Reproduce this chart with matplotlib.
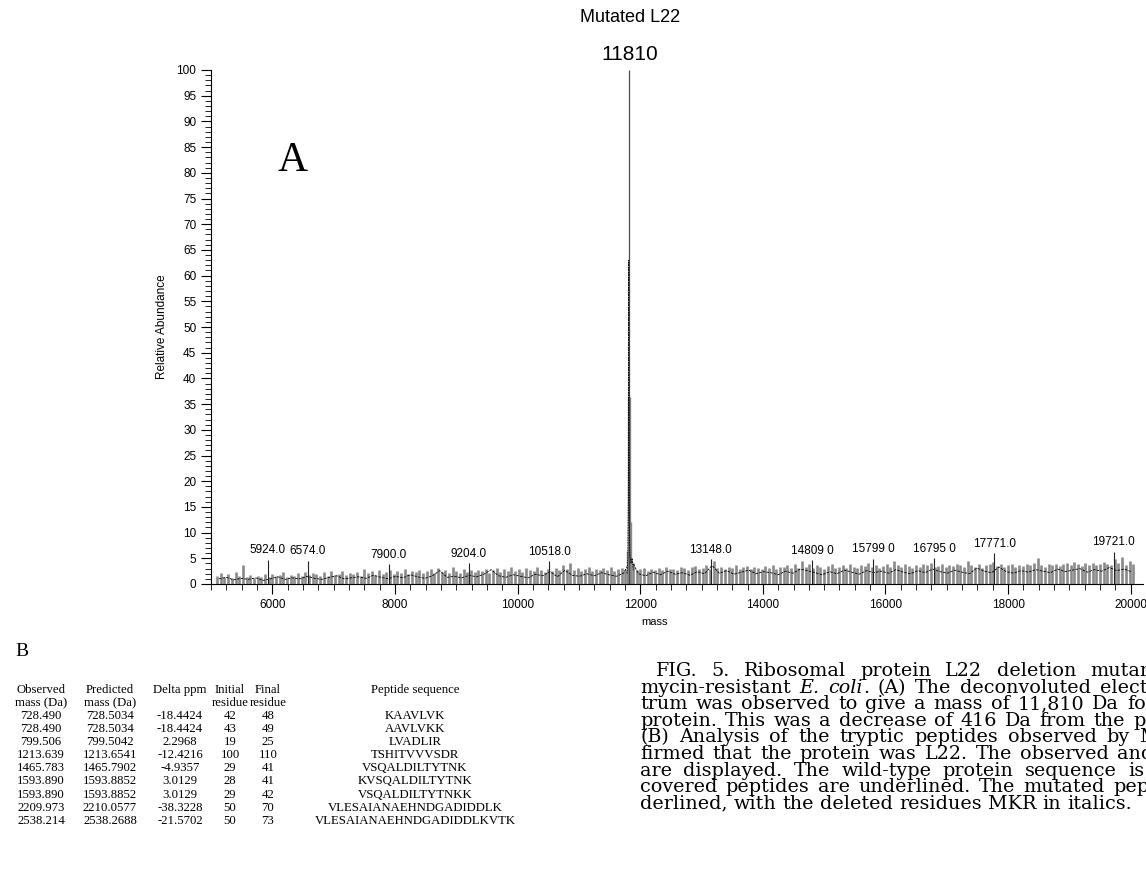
import numpy as np
import matplotlib
matplotlib.use("Agg")
import matplotlib.pyplot as plt
from matplotlib.ticker import MultipleLocator

# ---------------- data ----------------
# background (noise) sticks, grey, every 60 Da from 5100 Da
noise_start, noise_step = 5100, 60
noise_gray = [
    1.6, 2.2, 1.4, 1.9, 1.2, 2.4, 1.5, 3.6, 1.3, 1.8,
    1.2, 1.6, 1.4, 1.9, 1.3, 2.0, 1.5, 1.7, 2.3, 1.4,
    1.8, 1.5, 2.1, 1.6, 2.4, 1.7, 2.2, 1.9, 1.5, 2.3,
    1.6, 2.5, 1.8, 2.0, 2.6, 1.7, 2.2, 1.9, 2.4, 1.6,
    3.0, 2.1, 2.5, 1.8, 2.7, 2.0, 2.3, 2.8, 1.9, 2.5,
    2.2, 2.9, 2.0, 2.6, 2.3, 2.8, 2.1, 2.5, 2.9, 2.2,
    3.2, 2.4, 2.7, 2.1, 3.4, 2.5, 2.2, 2.9, 2.4, 2.7,
    2.3, 2.8, 2.6, 3.0, 2.2, 2.7, 3.1, 2.4, 2.9, 2.5,
    3.4, 2.6, 2.9, 2.3, 3.1, 2.7, 2.5, 3.3, 2.8, 2.4,
    3.0, 2.6, 3.2, 2.7, 3.6, 2.9, 4.0, 2.8, 3.1, 2.5,
    2.9, 3.3, 2.6, 3.0, 2.7, 3.2, 2.8, 3.4, 2.6, 3.0,
    3.1, 2.8, 3.5, 4.0, 2.7, 2.9, 3.2, 2.6, 3.0, 2.8,
    3.1, 2.7, 3.3, 2.9, 3.0, 2.8, 3.4, 3.1, 2.7, 3.3,
    3.5, 2.9, 3.2, 3.6, 3.0, 4.4, 3.1, 3.4, 3.0, 3.3,
    3.1, 3.6, 2.9, 3.3, 3.5, 3.0, 3.4, 3.2, 2.9, 3.5,
    3.2, 3.7, 3.0, 3.4, 3.3, 3.6, 3.1, 3.8, 3.2, 4.5,
    3.4, 3.9, 3.2, 3.6, 3.3, 3.0, 3.5, 3.8, 3.1, 3.4,
    3.6, 3.2, 3.9, 3.4, 3.1, 3.7, 3.5, 4.1, 3.3, 3.6,
    3.2, 3.5, 3.8, 3.4, 4.4, 3.6, 3.3, 3.9, 3.5, 3.2,
    3.7, 3.4, 3.9, 3.6, 4.0, 3.3, 3.5, 3.8, 3.4, 3.7,
    3.5, 3.9, 3.6, 3.3, 4.5, 3.7, 3.4, 3.8, 3.2, 3.6,
    3.9, 4.2, 3.5, 3.8, 3.3, 3.6, 3.9, 3.4, 3.7, 3.5,
    3.8, 3.6, 4.1, 5.0, 3.7, 3.4, 3.9, 3.6, 3.8, 3.5,
    3.9, 4.0, 3.6, 4.2, 3.8, 3.5, 4.0, 3.7, 4.1, 3.6,
    3.8, 4.3, 3.9, 3.6, 4.8, 4.0, 5.2, 3.7, 4.4, 3.9,
]
# black profile trace, every 120 Da from 5130 Da
black_start, black_step = 5130, 120
noise_black = [
    1.0, 1.3, 0.8, 1.1, 0.9, 1.2, 0.7, 1.0, 1.4, 0.9,
    1.2, 1.0, 1.5, 1.1, 0.9, 1.3, 1.6, 1.0, 1.2, 1.4,
    1.1, 1.7, 1.3, 1.0, 1.5, 1.2, 1.8, 1.4, 1.1, 1.6,
    2.6, 1.3, 1.5, 1.2, 1.7, 1.4, 1.9, 2.8, 1.6, 1.3,
    1.8, 1.5, 1.2, 1.9, 1.6, 2.4, 1.4, 2.7, 1.7, 1.5,
    2.0, 1.6, 2.2, 1.8, 1.5, 2.1, 4.8, 2.0, 1.6, 2.3,
    1.8, 2.5, 1.9, 2.2, 1.7, 2.4, 2.0, 3.6, 2.1, 2.6,
    1.9, 2.3, 2.7, 2.0, 2.4, 2.2, 1.8, 2.5, 2.1, 2.9,
    2.6, 2.2, 1.8, 2.4, 2.0, 2.7, 2.3, 1.9, 2.6, 2.2,
    2.5, 2.1, 2.8, 2.3, 2.0, 2.6, 2.2, 2.9, 2.4, 2.1,
    2.7, 2.3, 2.0, 3.1, 2.5, 2.2, 3.3, 2.4, 2.1, 2.6,
    2.3, 2.8, 2.5, 2.2, 2.9, 2.4, 2.7, 3.0, 2.3, 2.8,
    2.5, 3.2, 2.6, 2.9, 2.4,
]
# main deconvoluted peak
main_mass = 11810
main_height = 100
main_label = "11810"
main_gray_mass = [11800, 11816, 11826]
main_gray_height = [6.5, 36.4, 12.0]
main_black_mass = [11785, 11798, 11806, 11812, 11820, 11832, 11848, 11868, 11890]
main_black_height = [2.0, 5.0, 17.0, 63.0, 14.0, 6.0, 4.0, 5.0, 2.5]

# labelled minor peaks
peak_mass = [5924, 6574, 7900, 9204, 10518, 13148, 14809, 15799, 16795, 17771, 19721]
peak_height = [4.7, 4.5, 3.8, 4.0, 4.4, 4.8, 4.6, 4.9, 5.0, 6.0, 6.3]
peak_labels = ["5924.0", "6574.0", "7900.0", "9204.0", "10518.0", "13148.0",
               "14809 0", "15799 0", "16795 0", "17771.0", "19721.0"]

title_text = "Mutated L22"
x_label = "mass"
y_label = "Relative Abundance"
x_ticks = [6000, 8000, 10000, 12000, 14000, 16000, 18000, 20000]
y_ticks = list(range(0, 101, 5))

# table (panel B)
tbl_head1 = ["Observed", "Predicted", "Delta ppm", "Initial", "Final", "Peptide sequence"]
tbl_head2 = ["mass (Da)", "mass (Da)", "", "residue", "residue", ""]
obs_mass = ["728.490", "728.490", "799.506", "1213.639", "1465.783", "1593.890",
            "1593.890", "2209.973", "2538.214"]
pred_mass = ["728.5034", "728.5034", "799.5042", "1213.6541", "1465.7902", "1593.8852",
             "1593.8852", "2210.0577", "2538.2688"]
delta_ppm = ["-18.4424", "-18.4424", "2.2968", "-12.4216", "-4.9357", "3.0129",
             "3.0129", "-38.3228", "-21.5702"]
init_res = ["42", "43", "19", "100", "29", "28", "29", "50", "50"]
final_res = ["48", "49", "25", "110", "41", "41", "42", "70", "73"]
peptide = ["KAAVLVK", "AAVLVKK", "LVADLIR", "TSHITVVVSDR", "VSQALDILTYTNK",
           "KVSQALDILTYTNK", "VSQALDILTYTNKK", "VLESAIANAEHNDGADIDDLK",
           "VLESAIANAEHNDGADIDDLKVTK"]

# caption lines (*...* = italic); the right end is cut by the page edge
caption = [
    "FIG. 5. Ribosomal protein L22 deletion mutant",
    "mycin-resistant *E.* *coli*. (A) The deconvoluted electrospray",
    "trum was observed to give a mass of 11,810 Da for",
    "protein. This was a decrease of 416 Da from the predicted",
    "(B) Analysis of the tryptic peptides observed by MS",
    "firmed that the protein was L22. The observed and",
    "are displayed. The wild-type protein sequence is",
    "covered peptides are underlined. The mutated peptide",
    "derlined, with the deleted residues MKR in italics.",
]
# x (px) where the last word of each justified line starts
caption_last_word_x = [1090, 1100, 1127, 1133, 1140, 1117, 1128, 1113, None]

# ---------------- figure ----------------
W, H = 1146, 876
fig = plt.figure(figsize=(W / 100, H / 100), dpi=100)


def fx(px):
    return px / W


def fy(py):
    return 1 - py / H


SANS = "Liberation Sans"
SERIF = "Liberation Serif"

ax = fig.add_axes([fx(211), fy(584), fx(1143) - fx(211), fy(70) - fy(584)])
ax.set_xlim(5000, 20200)
ax.set_ylim(0, 100)

gray = "#8a8a8a"
gm = noise_start + noise_step * np.arange(len(noise_gray))
ax.vlines(gm, 0, noise_gray, color=gray, lw=1.9)
bm = black_start + black_step * np.arange(len(noise_black))
ax.plot(bm, noise_black, color="black", lw=0.6, ls=(0, (3, 1.5)))

ax.vlines(peak_mass, 0, peak_height, color="#222222", lw=0.8)
for m, h, lab in zip(peak_mass, peak_height, peak_labels):
    ax.text(m, h + 0.7, lab, ha="center", va="bottom", fontsize=8.5, family=SANS)

ax.vlines(main_gray_mass, 0, main_gray_height, color=gray, lw=2.4)
ax.vlines([main_mass], 0, [main_height], color="#4a4a4a", lw=0.9)
ax.plot(main_black_mass, main_black_height, color="black", lw=0.6, ls=(0, (2, 1)))

for s in ("top", "right"):
    ax.spines[s].set_visible(False)
ax.spines["left"].set_linewidth(0.8)
ax.spines["bottom"].set_linewidth(0.8)

ax.set_xticks(x_ticks)
ax.xaxis.set_minor_locator(MultipleLocator(250))
ax.set_yticks(y_ticks)
ax.yaxis.set_minor_locator(MultipleLocator(1))
ax.tick_params(which="major", length=7, width=0.8, direction="out", labelsize=8.5)
ax.tick_params(which="minor", length=4, width=0.6, direction="out")
for lab in ax.get_xticklabels() + ax.get_yticklabels():
    lab.set_family(SANS)

ax.set_ylabel(y_label, fontsize=8.5, family=SANS)
ax.yaxis.set_label_coords(-0.046, 0.5)
ax.set_xlabel(x_label, fontsize=8, family=SANS)
ax.xaxis.set_label_coords(0.476, -0.064)

fig.text(fx(630), fy(18), title_text, ha="center", va="center", fontsize=13, family=SANS)
fig.text(fx(630), fy(55), main_label, ha="center", va="center", fontsize=15, family=SANS)
fig.text(fx(293), fy(161), "A", ha="center", va="center", fontsize=30, family=SERIF)

# ---------------- panel B table ----------------
fig.text(fx(15), fy(651), "B", ha="left", va="center", fontsize=14, family=SERIF)
col_x = [41, 110, 180, 230, 268, 415]
ts = 9.2
for cx, h1, h2 in zip(col_x, tbl_head1, tbl_head2):
    fig.text(fx(cx), fy(690), h1, ha="center", va="center", fontsize=ts, family=SERIF)
    if h2:
        fig.text(fx(cx), fy(703), h2, ha="center", va="center", fontsize=ts, family=SERIF)
cols = [obs_mass, pred_mass, delta_ppm, init_res, final_res, peptide]
for r in range(len(obs_mass)):
    y = 716 + 13.1 * r
    for cx, col in zip(col_x, cols):
        fig.text(fx(cx), fy(y), col[r], ha="center", va="center", fontsize=ts, family=SERIF)

# ---------------- caption (justified, word by word) ----------------
renderer = fig.canvas.get_renderer()
cap_size = 13.8
CAPF = "DejaVu Serif"


def frags_of(word):
    parts = word.split("*")
    return [(p, k % 2 == 1) for k, p in enumerate(parts) if p]


def width_of(s, italic=False):
    t = fig.text(0, 0, s, fontsize=cap_size, family=CAPF,
                 style="italic" if italic else "normal")
    w = t.get_window_extent(renderer).width
    t.remove()
    return w


space_w = width_of("x x") - width_of("xx")
for i, line in enumerate(caption):
    x0 = 656 if i == 0 else 640
    y = 676 + 16.6 * i
    words = line.split(" ")
    wwidths = [sum(width_of(p, it) for p, it in frags_of(w)) for w in words]
    gap = space_w
    target = caption_last_word_x[i]
    if target is not None and len(words) > 1:
        natural_start = x0 + sum(wwidths[:-1]) + space_w * (len(words) - 1)
        gap = space_w + (target - natural_start) / (len(words) - 1)
        gap = max(gap, 0.8 * space_w)
    x = x0
    for w, ww in zip(words, wwidths):
        xx = x
        for p, it in frags_of(w):
            t = fig.text(fx(xx), fy(y), p, ha="left", va="baseline", fontsize=cap_size,
                         family=CAPF, style="italic" if it else "normal")
            xx += t.get_window_extent(renderer).width
        x += ww + gap

fig.savefig("out.png", dpi=100)
